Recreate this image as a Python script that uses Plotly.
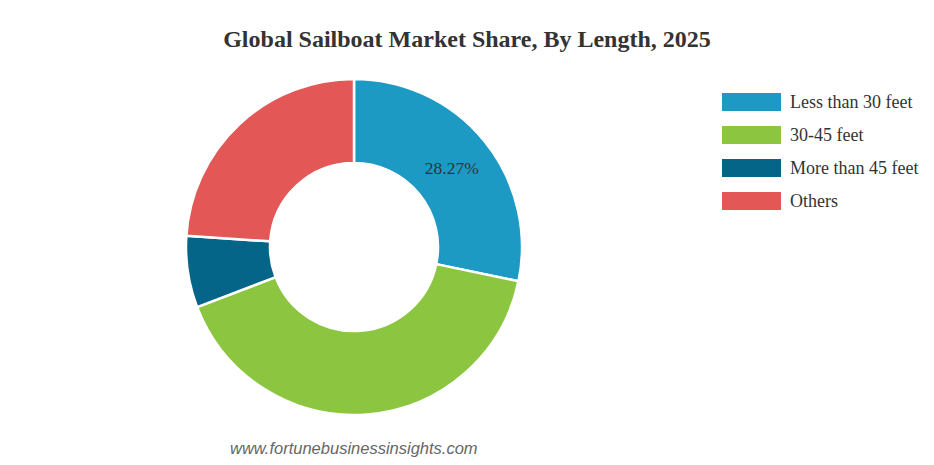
import plotly.graph_objects as go

categories = ["Less than 30 feet", "30-45 feet", "More than 45 feet", "Others"]
shares = [28.27, 40.9, 6.9, 23.93]
shown_labels = ["28.27%", "", "", ""]
colors = ["#1c9ac4", "#8cc540", "#056589", "#e35757"]

W, H = 934, 465
OFF = 8  # page body offset


def px(x):
    return (x - OFF) / W


def py(y):
    return 1 - (y - OFF) / H


cx, cy, R = 354, 247, 168
SERIF = "Liberation Serif, Times New Roman, serif"

fig = go.Figure()
fig.add_trace(go.Pie(
    labels=categories,
    values=shares,
    text=shown_labels,
    textinfo="text",
    textposition="inside",
    insidetextorientation="horizontal",
    textfont=dict(family=SERIF, size=17.5, color="#333333"),
    hole=0.5,
    sort=False,
    direction="clockwise",
    rotation=0,
    marker=dict(colors=colors, line=dict(color="white", width=2.5)),
    domain=dict(x=[px(cx - R), px(cx + R)], y=[py(cy + R), py(cy - R)]),
    showlegend=False,
    hoverinfo="label+percent",
))

shapes = []
annotations = []
for i, (name, col) in enumerate(zip(categories, colors)):
    yc = 102 + i * 33
    shapes.append(dict(type="rect", xref="paper", yref="paper",
                       x0=px(722), x1=px(781), y0=py(yc + 9), y1=py(yc - 9),
                       fillcolor=col, line=dict(width=0)))
    annotations.append(dict(x=px(788), y=py(yc), xref="paper", yref="paper",
                            text=name, showarrow=False, xanchor="left", yanchor="middle",
                            font=dict(family=SERIF, size=18, color="#333333")))

annotations.append(dict(x=px(354), y=py(448), xref="paper", yref="paper",
                        text="<i>www.fortunebusinessinsights.com</i>", showarrow=False,
                        xanchor="center", yanchor="middle",
                        font=dict(family="Liberation Sans, Arial, sans-serif", size=16.5, color="#666666")))

fig.update_layout(
    width=W, height=H,
    margin=dict(l=0, r=0, t=0, b=0),
    paper_bgcolor="white", plot_bgcolor="white",
    title=dict(text="<b>Global Sailboat Market Share, By Length, 2025</b>",
               x=px(467), xanchor="center", y=py(39), yanchor="middle",
               font=dict(family=SERIF, size=24, color="#333333")),
    shapes=shapes,
    annotations=annotations,
)

fig.write_html("out.html")
